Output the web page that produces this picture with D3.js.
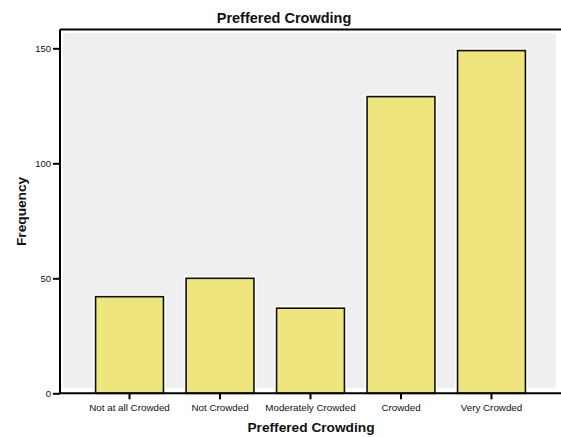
<!DOCTYPE html>
<html>
<head>
<meta charset="utf-8">
<script src="https://cdn.jsdelivr.net/npm/d3@7"></script>
<style>
  html, body { margin: 0; padding: 0; background: #fff; }
  svg { display: block; font-family: "Liberation Sans", Arial, sans-serif; }
</style>
</head>
<body>
<svg id="chart" width="561" height="437"></svg>
<script>
const categories = ["Not at all Crowded", "Not Crowded", "Moderately Crowded", "Crowded", "Very Crowded"];
const frequencies = [42, 50, 37, 129, 149];
const yTicks = [0, 50, 100, 150];
const chartTitle = "Preffered Crowding";
const xTitle = "Preffered Crowding";
const yTitle = "Frequency";

(function () {
const svg = d3.select("#chart");
const mLeft = 60, mTop = 29.5, mBottom = 393.3, mRight = 562;

const x = d3.scaleBand().domain(categories).range([64, 557]).paddingInner(0.25).paddingOuter(0.349);
const y = d3.scaleLinear().domain([0, 150]).range([mBottom, mBottom - 345]);

// inner gray panel
svg.append("rect")
  .attr("x", 63).attr("y", 33).attr("width", 493).attr("height", 355)
  .attr("rx", 3).attr("fill", "#efefef");

// bars: white halo, then bar
const g = svg.append("g");
g.selectAll("rect.halo").data(frequencies).join("rect")
  .attr("class", "halo")
  .attr("x", (d, i) => x(categories[i]))
  .attr("y", d => y(d))
  .attr("width", x.bandwidth())
  .attr("height", d => mBottom - y(d))
  .attr("fill", "none").attr("stroke", "#fbfbfb").attr("stroke-width", 5);
g.selectAll("rect.bar").data(frequencies).join("rect")
  .attr("class", "bar")
  .attr("x", (d, i) => x(categories[i]))
  .attr("y", d => y(d))
  .attr("width", x.bandwidth())
  .attr("height", d => mBottom - y(d))
  .attr("fill", "#efe57f").attr("stroke", "#111").attr("stroke-width", 1.6);

// frame top line
svg.append("line").attr("x1", mLeft).attr("x2", mRight).attr("y1", mTop).attr("y2", mTop)
  .attr("stroke", "#000").attr("stroke-width", 2);

// y axis
const yAxis = d3.axisLeft(y).tickValues(yTicks).tickSize(7).tickPadding(2).tickSizeOuter(0);
const ya = svg.append("g").attr("transform", `translate(${mLeft},0)`).call(yAxis);
ya.select(".domain").attr("stroke", "#000").attr("stroke-width", 2).attr("d", `M0,${mTop}V${mBottom}`);
ya.selectAll(".tick line").attr("stroke", "#000").attr("stroke-width", 2);
ya.selectAll(".tick text").attr("font-size", "9.5px").attr("fill", "#111").attr("font-family", "Liberation Sans, Arial, sans-serif");

// x axis
const xAxis = d3.axisBottom(x).tickSize(6).tickPadding(5).tickSizeOuter(0);
const xa = svg.append("g").attr("transform", `translate(0,${mBottom})`).call(xAxis);
xa.select(".domain").attr("stroke", "#000").attr("stroke-width", 2).attr("d", `M${mLeft},0H${mRight}`);
xa.selectAll(".tick line").attr("stroke", "#000").attr("stroke-width", 2);
xa.selectAll(".tick text").attr("font-size", "9.8px").attr("fill", "#111").attr("font-family", "Liberation Sans, Arial, sans-serif");

// titles
svg.append("text").attr("x", 284).attr("y", 23).attr("text-anchor", "middle")
  .attr("font-size", "14.5px").attr("font-weight", "bold").attr("fill", "#111").text(chartTitle);
svg.append("text").attr("x", 311).attr("y", 432).attr("text-anchor", "middle")
  .attr("font-size", "13.7px").attr("font-weight", "bold").attr("fill", "#111").text(xTitle);
svg.append("text").attr("transform", `translate(26,211.4) rotate(-90)`).attr("text-anchor", "middle")
  .attr("font-size", "13.7px").attr("font-weight", "bold").attr("fill", "#111").text(yTitle);
})();
</script>
</body>
</html>
